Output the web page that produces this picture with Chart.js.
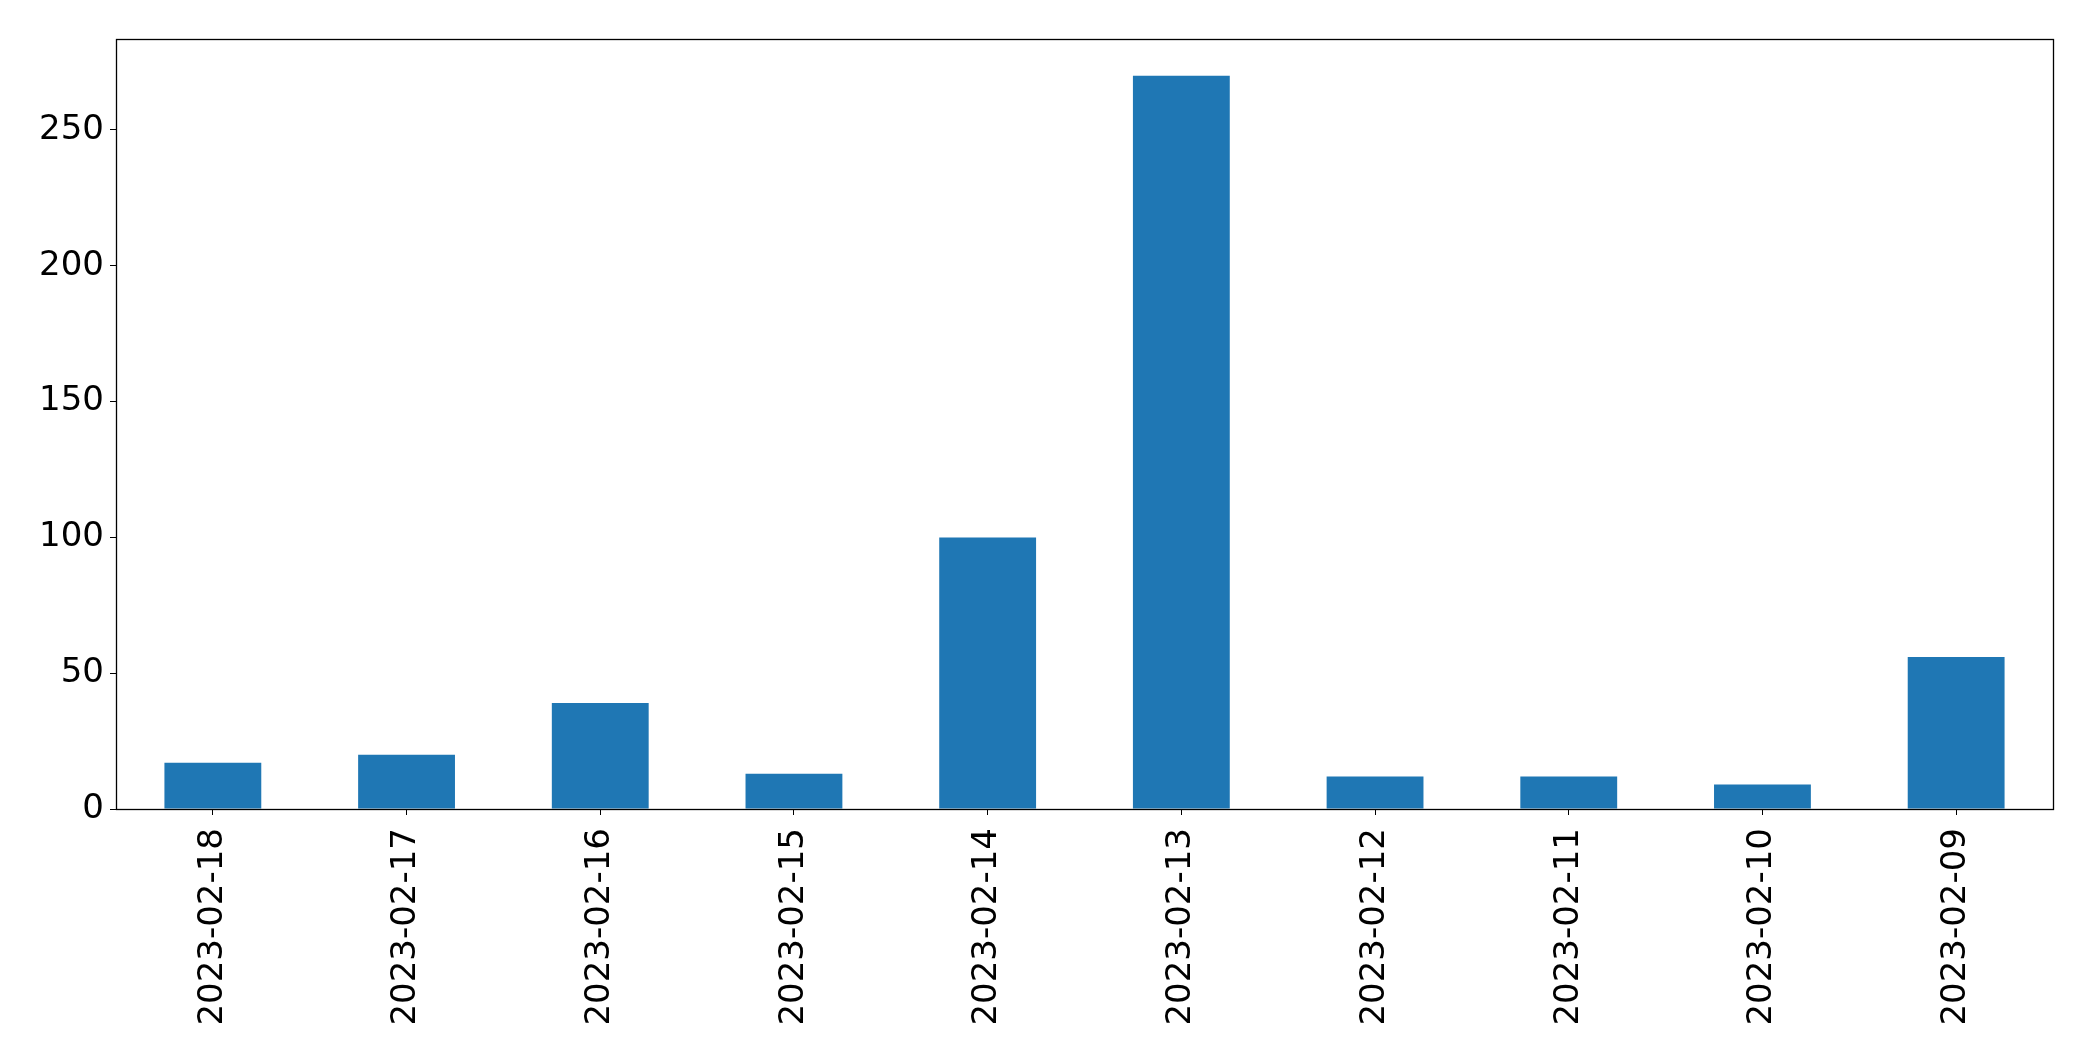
<!DOCTYPE html>
<html>
<head>
<meta charset="utf-8">
<script src="https://cdn.jsdelivr.net/npm/chart.js@4/dist/chart.umd.min.js"></script>
<style>
  html, body { margin: 0; padding: 0; background: #fff; }
  #wrap { width: 2093px; height: 1061px; position: relative; }
</style>
</head>
<body>
<div id="wrap"><canvas id="chart"></canvas></div>
<script>
  var DATES = ['2023-02-18', '2023-02-17', '2023-02-16', '2023-02-15', '2023-02-14',
               '2023-02-13', '2023-02-12', '2023-02-11', '2023-02-10', '2023-02-09'];
  var COUNTS = [17, 20, 39, 13, 100, 270, 12, 12, 9, 56];
  var Y_TICKS = [0, 50, 100, 150, 200, 250];

  var BAR_COLOR = '#1f77b4';
  var FONT = { family: '"DejaVu Sans", sans-serif', size: 34 };

  // box round the plot area, like a matplotlib axes frame
  var frame = {
    id: 'frame',
    afterDraw: function (chart) {
      var a = chart.chartArea, ctx = chart.ctx;
      ctx.save();
      ctx.strokeStyle = '#000';
      ctx.lineWidth = 1.3;
      ctx.strokeRect(Math.round(a.left) + 0.5, Math.round(a.top) + 0.5,
        Math.round(a.right - a.left), Math.round(a.bottom - a.top));
      ctx.restore();
    }
  };

  new Chart(document.getElementById('chart'), {
    type: 'bar',
    data: {
      labels: DATES,
      datasets: [{
        data: COUNTS,
        backgroundColor: BAR_COLOR,
        borderWidth: 0,
        categoryPercentage: 1.0,
        barPercentage: 0.5
      }]
    },
    options: {
      responsive: true,
      maintainAspectRatio: false,
      animation: false,
      layout: { padding: { top: 39, right: 40, left: 0, bottom: 0 } },
      plugins: { legend: { display: false }, tooltip: { enabled: false } },
      scales: {
        x: {
          offset: true,
          grid: { display: true, offset: false, drawOnChartArea: false, tickLength: 6, color: '#000' },
          border: { display: false },
          ticks: { color: '#000', font: FONT, minRotation: 90, maxRotation: 90, padding: 13 },
          afterFit: function (s) { s.height = 252; }
        },
        y: {
          min: 0,
          max: 283.5,
          grid: { display: true, drawOnChartArea: false, tickLength: 6, color: '#000' },
          border: { display: false },
          ticks: { color: '#000', font: FONT, stepSize: 50, padding: 6 },
          afterBuildTicks: function (s) {
            s.ticks = Y_TICKS.map(function (v) { return { value: v }; });
          },
          afterFit: function (s) { s.width = 116; }
        }
      }
    },
    plugins: [frame]
  });
</script>
</body>
</html>
